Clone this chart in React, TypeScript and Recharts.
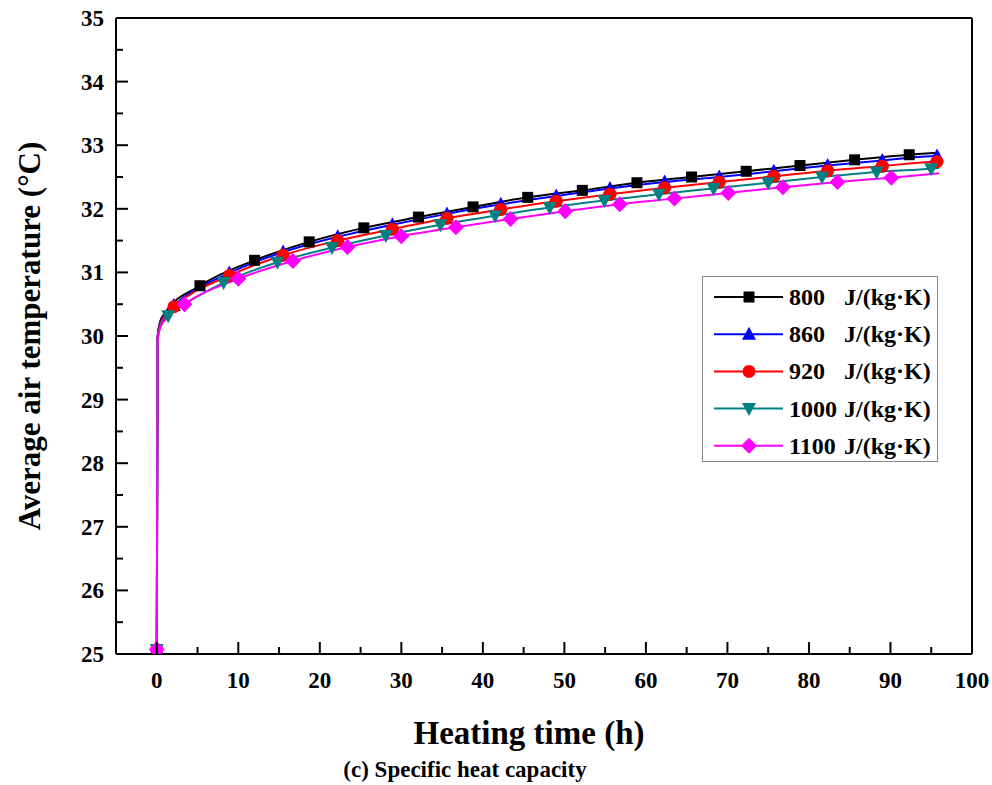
import React from 'react';
import { LineChart, Line, XAxis, YAxis, ReferenceLine } from 'recharts';

// heating time (h) and average air temperature (°C)
const time800 = [0, 0.1, 0.4, 1, 5.3, 12.0, 18.7, 25.4, 32.1, 38.8, 45.5, 52.2, 58.9, 65.6, 72.3, 78.9, 85.6, 92.3, 96];
const temp800 = [25.07, 30.0, 30.22, 30.36, 30.79, 31.19, 31.48, 31.7, 31.87, 32.03, 32.18, 32.29, 32.41, 32.5, 32.59, 32.68, 32.77, 32.85, 32.88];

const time860 = [0, 0.1, 0.4, 1, 2.1, 8.9, 15.5, 22.2, 28.9, 35.6, 42.2, 49.0, 55.6, 62.3, 69.0, 75.7, 82.3, 89.0, 95.7, 96];
const temp860 = [25.07, 29.98, 30.2, 30.34, 30.48, 30.99, 31.32, 31.56, 31.75, 31.92, 32.07, 32.2, 32.32, 32.42, 32.5, 32.59, 32.68, 32.76, 32.83, 32.83];

const time920 = [0, 0.1, 0.4, 1, 2.1, 8.9, 15.5, 22.2, 28.9, 35.6, 42.2, 49.0, 55.6, 62.3, 69.0, 75.7, 82.3, 89.0, 95.7, 96];
const temp920 = [25.07, 29.96, 30.18, 30.32, 30.46, 30.95, 31.27, 31.5, 31.68, 31.85, 31.99, 32.12, 32.23, 32.33, 32.42, 32.51, 32.6, 32.67, 32.74, 32.74];

const time1000 = [0, 0.1, 0.4, 1, 1.4, 8.2, 14.8, 21.5, 28.1, 34.8, 41.5, 48.2, 54.9, 61.6, 68.3, 75.0, 81.6, 88.3, 95.0, 96];
const temp1000 = [25.07, 29.94, 30.15, 30.28, 30.32, 30.84, 31.16, 31.39, 31.58, 31.75, 31.89, 32.02, 32.13, 32.23, 32.32, 32.41, 32.5, 32.58, 32.63, 32.64];

const time1100 = [0, 0.1, 0.4, 1, 3.4, 10.0, 16.7, 23.4, 30.0, 36.7, 43.4, 50.1, 56.8, 63.5, 70.1, 76.8, 83.5, 90.1, 96];
const temp1100 = [25.07, 29.9, 30.12, 30.25, 30.5, 30.9, 31.18, 31.4, 31.57, 31.71, 31.84, 31.96, 32.07, 32.16, 32.25, 32.34, 32.42, 32.49, 32.56];

// points that only shape the curve and carry no marker
const curveOnlyTimes = [0.1, 0.4, 1, 96];

const xTicks = [0, 5, 10, 15, 20, 25, 30, 35, 40, 45, 50, 55, 60, 65, 70, 75, 80, 85, 90, 95, 100];
const yTicks = [25, 25.5, 26, 26.5, 27, 27.5, 28, 28.5, 29, 29.5, 30, 30.5, 31, 31.5, 32, 32.5, 33, 33.5, 34, 34.5, 35];

const legendNames = ['800', '860', '920', '1000', '1100'];

const FONT = '"Liberation Serif", "Times New Roman", serif';

type Shape = 'square' | 'triangle' | 'circle' | 'triangleDown' | 'diamond';

const series: { name: string; color: string; shape: Shape; time: number[]; temp: number[] }[] = [
  { name: '800', color: '#000000', shape: 'square', time: time800, temp: temp800 },
  { name: '860', color: '#0000ff', shape: 'triangle', time: time860, temp: temp860 },
  { name: '920', color: '#ff0000', shape: 'circle', time: time920, temp: temp920 },
  { name: '1000', color: '#008080', shape: 'triangleDown', time: time1000, temp: temp1000 },
  { name: '1100', color: '#ff00ff', shape: 'diamond', time: time1100, temp: temp1100 },
];

const marker = (shape: Shape, cx: number, cy: number, color: string, key?: string) => {
  switch (shape) {
    case 'square':
      return <rect key={key} x={cx - 5.5} y={cy - 5.5} width={11} height={11} fill={color} />;
    case 'triangle':
      return <polygon key={key} points={`${cx},${cy - 7.5} ${cx - 7},${cy + 5.5} ${cx + 7},${cy + 5.5}`} fill={color} />;
    case 'circle':
      return <circle key={key} cx={cx} cy={cy} r={6.5} fill={color} />;
    case 'triangleDown':
      return <polygon key={key} points={`${cx},${cy + 7.5} ${cx - 7},${cy - 5.5} ${cx + 7},${cy - 5.5}`} fill={color} />;
    default:
      return <polygon key={key} points={`${cx},${cy - 8} ${cx + 8},${cy} ${cx},${cy + 8} ${cx - 8},${cy}`} fill={color} />;
  }
};

const XTick = (props: any) => {
  const { x, y, payload } = props;
  const v = payload.value;
  const major = v % 10 === 0;
  return (
    <g>
      <line x1={x} x2={x} y1={y} y2={y - (major ? 12 : 7)} stroke="#000" strokeWidth={2} />
      {major && (
        <text x={x} y={y + 34} textAnchor="middle" fontFamily={FONT} fontWeight="bold" fontSize={23} fill="#000">
          {v}
        </text>
      )}
    </g>
  );
};

const YTick = (props: any) => {
  const { x, y, payload } = props;
  const v = payload.value;
  const major = v % 1 === 0;
  return (
    <g>
      <line x1={x} x2={x + (major ? 12 : 7)} y1={y} y2={y} stroke="#000" strokeWidth={2} />
      {major && (
        <text x={x - 12} y={y + 8} textAnchor="end" fontFamily={FONT} fontWeight="bold" fontSize={23} fill="#000">
          {v}
        </text>
      )}
    </g>
  );
};

export default function App() {
  return (
    <div style={{ position: 'absolute', left: 0, top: 0, width: 992, height: 785, background: '#fff' }}>
      <LineChart width={992} height={785} margin={{ top: 18, right: 20, left: 56, bottom: 91 }}>
        <XAxis
          type="number"
          dataKey="t"
          domain={[-5, 100]}
          ticks={xTicks}
          interval={0}
          tickSize={0}
          tickMargin={0}
          tick={<XTick />}
          axisLine={{ stroke: '#000', strokeWidth: 2 }}
          height={40}
          allowDataOverflow
        />
        <YAxis
          type="number"
          domain={[25, 35]}
          ticks={yTicks}
          interval={0}
          tickSize={0}
          tickMargin={0}
          tick={<YTick />}
          axisLine={{ stroke: '#000', strokeWidth: 2 }}
          width={60}
          allowDataOverflow
        />
        <ReferenceLine y={35} stroke="#000" strokeWidth={2} />
        <ReferenceLine x={100} stroke="#000" strokeWidth={2} />
        {series.map((s) => (
          <Line
            key={s.name}
            data={s.time.map((t, i) => ({ t, v: s.temp[i] }))}
            dataKey="v"
            type="monotone"
            stroke={s.color}
            strokeWidth={2}
            isAnimationActive={false}
            dot={(p: any) =>
              curveOnlyTimes.includes(p.payload.t)
                ? <g key={`${s.name}-${p.index}`} />
                : marker(s.shape, p.cx, p.cy, s.color, `${s.name}-${p.index}`)
            }
            activeDot={false}
          />
        ))}
      </LineChart>

      {/* legend */}
      <div
        style={{
          position: 'absolute',
          left: 702,
          top: 276,
          width: 236,
          height: 186,
          border: '1.5px solid #888',
          boxSizing: 'border-box',
        }}
      >
        <svg width={236} height={186} style={{ position: 'absolute', left: 0, top: 0 }}>
          {series.map((s, i) => {
            const cy = 20 + i * 37.2;
            return (
              <g key={s.name}>
                <line x1={11} x2={80} y1={cy} y2={cy} stroke={s.color} strokeWidth={2} />
                {marker(s.shape, 46, cy, s.color)}
                <text x={86} y={cy + 8} fontFamily={FONT} fontWeight="bold" fontSize={24} fill="#000">
                  {legendNames[i]}
                </text>
                <text x={141} y={cy + 8} fontFamily={FONT} fontWeight="bold" fontSize={24} fill="#000">
                  J/(kg·K)
                </text>
              </g>
            );
          })}
        </svg>
      </div>

      {/* axis titles */}
      <div
        style={{
          position: 'absolute',
          left: 29,
          top: 336,
          transform: 'translate(-50%, -50%) rotate(-90deg)',
          whiteSpace: 'nowrap',
          fontFamily: FONT,
          fontWeight: 'bold',
          fontSize: 31,
          lineHeight: 1,
        }}
      >
        Average air temperature (°C)
      </div>
      <div
        style={{
          position: 'absolute',
          left: 529,
          top: 733,
          transform: 'translate(-50%, -50%)',
          whiteSpace: 'nowrap',
          fontFamily: FONT,
          fontWeight: 'bold',
          fontSize: 33,
          lineHeight: 1,
        }}
      >
        Heating time (h)
      </div>
      <div
        style={{
          position: 'absolute',
          left: 465,
          top: 769,
          transform: 'translate(-50%, -50%)',
          whiteSpace: 'nowrap',
          fontFamily: FONT,
          fontWeight: 'bold',
          fontSize: 23,
          lineHeight: 1,
        }}
      >
        (c) Specific heat capacity
      </div>
    </div>
  );
}
